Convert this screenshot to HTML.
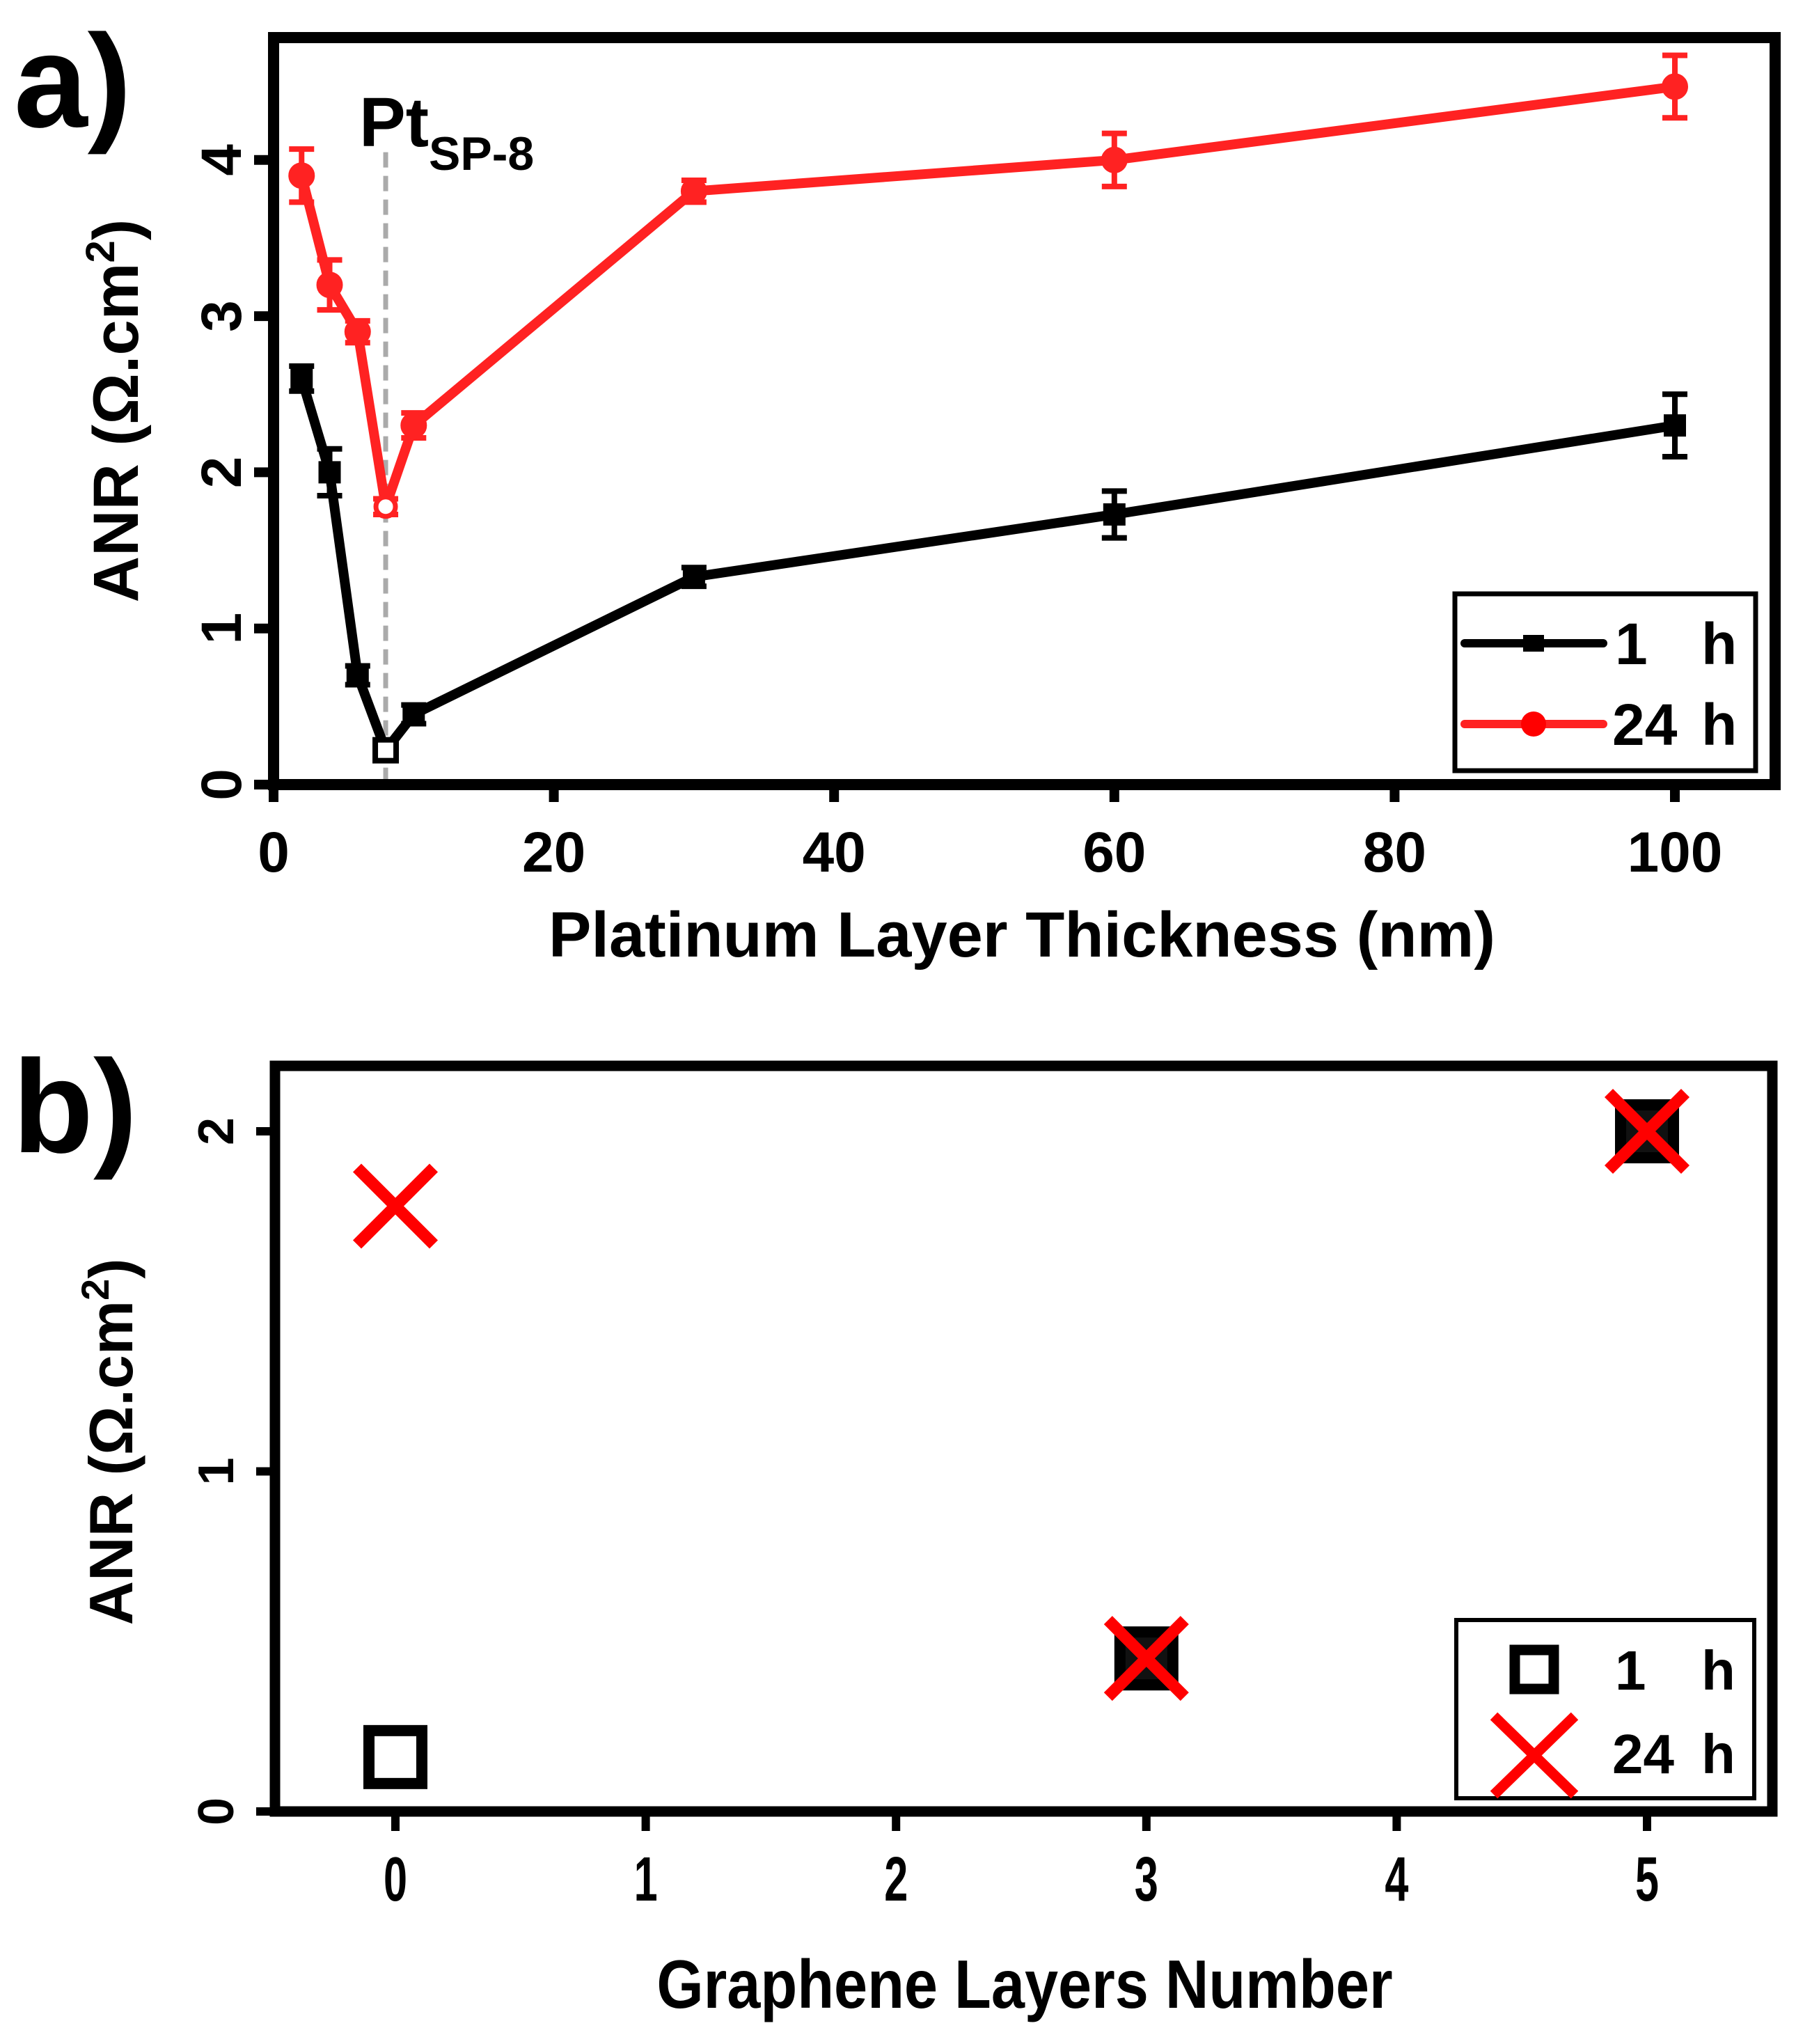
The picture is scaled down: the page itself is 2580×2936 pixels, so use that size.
<!DOCTYPE html>
<html><head><meta charset="utf-8"><style>
html,body{margin:0;padding:0;background:#fff;}
svg{display:block;font-family:"Liberation Sans",sans-serif;font-weight:bold;}
</style></head><body>
<svg id="chart" width="2580" height="2936" viewBox="0 0 2580 2936" xmlns="http://www.w3.org/2000/svg">
<rect width="2580" height="2936" fill="#fff"/>
<g id="pa"></g>
<g id="pb"></g>
</svg>
<script>
// Panel a data
const thickness = [2, 4, 6, 8, 10, 30, 60, 100];
const anr1h = [2.6, 2.0, 0.7, 0.22, 0.45, 1.33, 1.73, 2.3];
const err1h = [0.08, 0.15, 0.06, 0.05, 0.06, 0.06, 0.15, 0.2];
const anr24h = [3.9, 3.2, 2.9, 1.78, 2.3, 3.8, 4.0, 4.47];
const err24h = [0.17, 0.16, 0.07, 0.05, 0.08, 0.07, 0.17, 0.2];
const xTicksA = [0, 20, 40, 60, 80, 100];
const yTicksA = [0, 1, 2, 3, 4];
// Panel b data
const layers = [0, 3, 5];
const anrB1h = [0.16, 0.45, 2.0];
const anrB24h = [1.78, 0.45, 2.0];
const xTicksB = [0, 1, 2, 3, 4, 5];
const yTicksB = [0, 1, 2];

const NS = "http://www.w3.org/2000/svg";
function mk(parent, tag, attrs, text) {
  const e = document.createElementNS(NS, tag);
  for (const k in attrs) e.setAttribute(k, attrs[k]);
  if (text !== undefined) e.textContent = text;
  parent.appendChild(e);
  return e;
}
const pa = document.getElementById('pa');
const pb = document.getElementById('pb');

// ---------- Panel A ----------
const xA = v => 393 + v * 20.13;
const yA = v => 1127 - v * 224.3;

let t = mk(pa, 'text', {x: 20, y: 182, 'font-size': 190}, 'a)');



let dl = mk(pa, 'line', {x1: xA(8), x2: xA(8), y1: yA(4.05), y2: yA(0), stroke: '#aaa', 'stroke-width': 7, 'stroke-dasharray': '22 12'});


t = mk(pa, 'text', {x: 516, y: 210, 'font-size': 100}, 'Pt');


mk(t, 'tspan', {dy: 34, 'font-size': 68}, 'SP-8');

yTicksA.forEach(v => {
  const l = mk(pa, 'line', {x1: 365, x2: 393, y1: yA(v), y2: yA(v), stroke: '#000', 'stroke-width': 14});
  
  
  const tx = mk(pa, 'text', {'font-size': 82, 'text-anchor': 'middle', transform: `translate(346,${yA(v)}) rotate(-90)`}, String(v));
  
  
});
xTicksA.forEach(v => {
  const l = mk(pa, 'line', {x1: xA(v), x2: xA(v), y1: 1127, y2: 1152, stroke: '#000', 'stroke-width': 14});
  
  
  const tx = mk(pa, 'text', {x: xA(v), y: 1252, 'font-size': 82, 'text-anchor': 'middle'}, String(v));
  
  
});
t = mk(pa, 'text', {x: 1468, y: 1374, 'font-size': 92, 'text-anchor': 'middle'}, 'Platinum Layer Thickness (nm)');


t = mk(pa, 'text', {'font-size': 92, 'text-anchor': 'middle', transform: 'translate(198,590) rotate(-90)'}, 'ANR (Ω.cm');


mk(t, 'tspan', {dy: -34, 'font-size': 58}, '2');
mk(t, 'tspan', {dy: 34}, ')');

function series(parent, xs, ys, es, color, name, sx, sy, square) {
  const pts = xs.map((x, i) => sx(x) + ',' + sy(ys[i])).join(' ');
  const pl = mk(parent, 'polyline', {points: pts, fill: 'none', stroke: color, 'stroke-width': 14, 'stroke-linejoin': 'round'});
  
  
  xs.forEach((x, i) => {
    const cx = sx(x), cy = sy(ys[i]);
    const e = es[i];
    const eb = mk(parent, 'path', {d: `M${cx},${sy(ys[i]+e)}V${sy(ys[i]-e)}M${cx-18},${sy(ys[i]+e)}H${cx+18}M${cx-18},${sy(ys[i]-e)}H${cx+18}`, stroke: color, 'stroke-width': 8, fill: 'none'});
    
    
    const hollow = (x === 8);
    let m;
    if (square) m = mk(parent, 'rect', {x: cx - 15, y: cy - 15, width: 30, height: 30, fill: hollow ? '#fff' : color, stroke: color, 'stroke-width': hollow ? 8 : 2});
    else m = mk(parent, 'circle', {cx: cx, cy: cy, r: hollow ? 14 : 18, fill: hollow ? '#fff' : color, stroke: color, 'stroke-width': hollow ? 7 : 2});
    
    
  });
}
series(pa, thickness, anr1h, err1h, '#000', 'series-1h', xA, yA, true);
series(pa, thickness, anr24h, err24h, '#f22', 'series-24h', xA, yA, false);

let fr = mk(pa, 'rect', {x: 393, y: 54, width: 2157, height: 1073, fill: 'none', stroke: '#000', 'stroke-width': 16});



let lg = mk(pa, 'g', {});


mk(lg, 'rect', {x: 2090, y: 853, width: 432, height: 254, fill: '#fff', stroke: '#000', 'stroke-width': 7});
mk(lg, 'line', {x1: 2104, x2: 2303, y1: 924, y2: 924, stroke: '#000', 'stroke-width': 12, 'stroke-linecap': 'round'});
mk(lg, 'rect', {x: 2188, y: 912, width: 30, height: 24, fill: '#000'});
mk(lg, 'text', {x: 2320, y: 954, 'font-size': 84}, '1');
mk(lg, 'text', {x: 2444, y: 954, 'font-size': 84}, 'h');
mk(lg, 'line', {x1: 2104, x2: 2303, y1: 1040, y2: 1040, stroke: '#f22', 'stroke-width': 12, 'stroke-linecap': 'round'});
mk(lg, 'circle', {cx: 2203, cy: 1040, r: 18, fill: '#f00'});
mk(lg, 'text', {x: 2316, y: 1070, 'font-size': 84}, '24');
mk(lg, 'text', {x: 2444, y: 1070, 'font-size': 84}, 'h');

// ---------- Panel B ----------
const xB = v => 568 + v * 359.6;
const yB = v => 2602 - v * 488.5;

t = mk(pb, 'text', {x: 18, y: 1655, 'font-size': 190}, 'b)');



yTicksB.forEach(v => {
  const l = mk(pb, 'line', {x1: 368, x2: 395, y1: yB(v), y2: yB(v), stroke: '#000', 'stroke-width': 12});
  
  
  const tx = mk(pb, 'text', {'font-size': 72, 'text-anchor': 'middle', transform: `translate(335,${yB(v)}) rotate(-90)`}, String(v));
  
  
});
xTicksB.forEach(v => {
  const l = mk(pb, 'line', {x1: xB(v), x2: xB(v), y1: 2602, y2: 2630, stroke: '#000', 'stroke-width': 12});
  
  
  const tx = mk(pb, 'text', {x: 0, y: 0, 'font-size': 72, 'text-anchor': 'middle', transform: `translate(${xB(v)},2730) scale(0.85,1.25)`}, String(v));
  
  
});
t = mk(pb, 'text', {x: 0, y: 0, 'font-size': 94, 'text-anchor': 'middle', transform: 'translate(1472,2884) scale(0.92,1.05)'}, 'Graphene Layers Number');


t = mk(pb, 'text', {'font-size': 88, 'text-anchor': 'middle', transform: 'translate(190,2071) rotate(-90)'}, 'ANR (Ω.cm');


mk(t, 'tspan', {dy: -34, 'font-size': 56}, '2');
mk(t, 'tspan', {dy: 34}, ')');

layers.forEach((x, i) => {
  const cx = xB(x), cy = yB(anrB1h[i]);
  const filled = anrB1h[i] === anrB24h[i];
  const m = mk(pb, 'rect', {x: cx - 38, y: cy - 38, width: 76, height: 76, fill: filled ? '#111' : 'none', stroke: '#000', 'stroke-width': 16});
  
  
});
layers.forEach((x, i) => {
  const cx = xB(x), cy = yB(anrB24h[i]), s = 55;
  const m = mk(pb, 'path', {d: `M${cx-s},${cy-s}L${cx+s},${cy+s}M${cx-s},${cy+s}L${cx+s},${cy-s}`, stroke: '#f00', 'stroke-width': 17, fill: 'none'});
  
  
});

fr = mk(pb, 'rect', {x: 395, y: 1531, width: 2151, height: 1071, fill: 'none', stroke: '#000', 'stroke-width': 15});



lg = mk(pb, 'g', {});


mk(lg, 'rect', {x: 2092, y: 2327, width: 428, height: 256, fill: '#fff', stroke: '#000', 'stroke-width': 6});
mk(lg, 'rect', {x: 2176, y: 2370, width: 56, height: 56, fill: 'none', stroke: '#000', 'stroke-width': 15});
mk(lg, 'text', {x: 2320, y: 2427, 'font-size': 80}, '1');
mk(lg, 'text', {x: 2444, y: 2427, 'font-size': 80}, 'h');
mk(lg, 'path', {d: 'M2146,2465L2262,2578M2146,2578L2262,2465', stroke: '#f00', 'stroke-width': 15, fill: 'none'});
mk(lg, 'text', {x: 2316, y: 2547, 'font-size': 80}, '24');
mk(lg, 'text', {x: 2444, y: 2547, 'font-size': 80}, 'h');
</script>
</body></html>
